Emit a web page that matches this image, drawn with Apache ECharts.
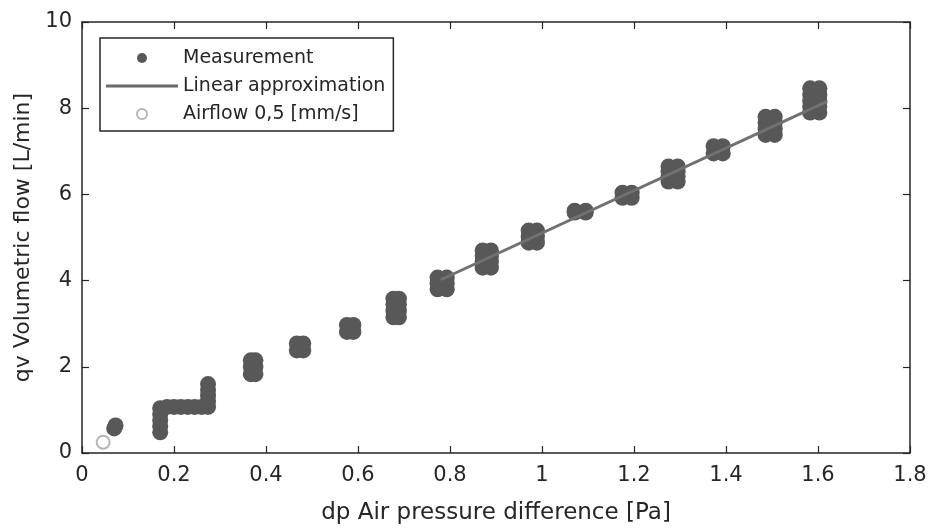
<!DOCTYPE html>
<html>
<head>
<meta charset="utf-8">
<script src="https://cdn.jsdelivr.net/npm/echarts@6/dist/echarts.min.js"></script>
<style>
  html, body { margin: 0; padding: 0; background: #fff; }
  #chart { width: 930px; height: 530px; }
</style>
</head>
<body>
<div id="chart"></div>
<script>
const measX = [
  0.070, 0.073,
  0.170, 0.170, 0.170, 0.170, 0.170, 0.185, 0.200, 0.215, 0.230, 0.245, 0.260, 0.274, 0.274, 0.274, 0.274, 0.274,
  0.367, 0.377, 0.367, 0.377, 0.367, 0.377,
  0.467, 0.481, 0.467, 0.481,
  0.576, 0.590, 0.576, 0.590,
  0.677, 0.689, 0.677, 0.689, 0.677, 0.689, 0.677, 0.689,
  0.773, 0.793, 0.773, 0.793, 0.773, 0.793,
  0.871, 0.889, 0.871, 0.889, 0.871, 0.889, 0.871, 0.889,
  0.971, 0.989, 0.971, 0.989, 0.971, 0.989,
  1.071, 1.095, 1.071, 1.095,
  1.175, 1.195, 1.175, 1.195,
  1.275, 1.295, 1.275, 1.295, 1.275, 1.295, 1.275, 1.295,
  1.373, 1.393, 1.373, 1.393,
  1.486, 1.506, 1.486, 1.506, 1.486, 1.506, 1.486, 1.506,
  1.583, 1.603, 1.583, 1.603, 1.583, 1.603, 1.583, 1.603, 1.583, 1.603
];
const measY = [
  0.57, 0.64,
  0.48, 0.62, 0.76, 0.90, 1.04, 1.07, 1.07, 1.07, 1.07, 1.07, 1.07, 1.07, 1.20, 1.33, 1.46, 1.60,
  1.83, 1.83, 2.00, 2.00, 2.15, 2.15,
  2.38, 2.38, 2.54, 2.54,
  2.81, 2.81, 2.97, 2.97,
  3.15, 3.15, 3.30, 3.30, 3.45, 3.45, 3.58, 3.58,
  3.80, 3.80, 3.94, 3.94, 4.07, 4.07,
  4.30, 4.30, 4.44, 4.44, 4.57, 4.57, 4.70, 4.70,
  4.88, 4.88, 5.02, 5.02, 5.16, 5.16,
  5.58, 5.58, 5.62, 5.62,
  5.92, 5.92, 6.04, 6.04,
  6.30, 6.30, 6.42, 6.42, 6.54, 6.54, 6.65, 6.65,
  6.95, 6.95, 7.12, 7.12,
  7.38, 7.38, 7.52, 7.52, 7.66, 7.66, 7.80, 7.80,
  7.90, 7.90, 8.04, 8.04, 8.18, 8.18, 8.32, 8.32, 8.46, 8.46
];
const lineX = [0.78, 1.62];
const lineY = [4.02, 8.16];
const airX = [0.046];
const airY = [0.25];

const xTicks = { min: 0, max: 1.8, interval: 0.2 };
const yTicks = { min: 0, max: 10, interval: 2 };

const txt = '#262626';
const font = 'DejaVu Sans';

const pairs = (xs, ys) => xs.map((x, i) => [x, ys[i]]);

const chart = echarts.init(document.getElementById('chart'));

const baseAxis = {
  type: 'value',
  splitLine: { show: false },
  axisLine: { show: true, onZero: false, lineStyle: { color: txt, width: 1.5 } },
  axisTick: { show: true, inside: true, length: 7, lineStyle: { color: txt, width: 1.2 } },
};

chart.setOption({
  animation: false,
  grid: { left: 82, right: 20, top: 22, bottom: 75 },
  xAxis: [
    {
      ...baseAxis, ...xTicks, position: 'bottom',
      name: 'dp Air pressure difference [Pa]', nameLocation: 'middle', nameGap: 49,
      nameTextStyle: { fontFamily: font, fontSize: 23, color: txt },
      axisLabel: { margin: 12, fontFamily: font, fontSize: 21, color: txt,
        formatter: (v) => String(Math.round(v * 10) / 10) },
    },
    { ...baseAxis, ...xTicks, position: 'top', axisLabel: { show: false } },
  ],
  yAxis: [
    {
      ...baseAxis, ...yTicks, position: 'left',
      name: 'qv Volumetric flow [L/min]', nameLocation: 'middle', nameGap: 38,
      nameTextStyle: { fontFamily: font, fontSize: 22, color: txt },
      axisLabel: { margin: 10, fontFamily: font, fontSize: 21, color: txt },
    },
    { ...baseAxis, ...yTicks, position: 'right', axisLabel: { show: false } },
  ],
  legend: {
    orient: 'vertical', left: 100, top: 38,
    padding: [9, 8, 6, 6],
    backgroundColor: '#fff',
    borderColor: txt, borderWidth: 1.5,
    itemWidth: 72, itemHeight: 10, itemGap: 6,
    textStyle: { fontFamily: font, fontSize: 19, color: txt, lineHeight: 22 },
    data: [
      'Measurement',
      { name: 'Linear approximation', icon: 'path://M0,0H72V3H0Z' },
      'Airflow 0,5 [mm/s]',
    ],
  },
  series: [
    {
      name: 'Measurement', type: 'scatter',
      symbol: 'circle', symbolSize: 16,
      itemStyle: { color: '#585858', opacity: 1 },
      data: pairs(measX, measY), z: 2,
    },
    {
      name: 'Linear approximation', type: 'line',
      symbol: 'none', lineStyle: { color: '#717171', width: 3 },
      itemStyle: { color: '#6a6a6a' },
      data: pairs(lineX, lineY), z: 3,
    },
    {
      name: 'Airflow 0,5 [mm/s]', type: 'scatter',
      symbol: 'circle', symbolSize: 13,
      itemStyle: { color: '#fff', borderColor: '#a3a3a3', borderWidth: 2 },
      data: pairs(airX, airY), z: 4,
    },
  ],
});
</script>
</body>
</html>
